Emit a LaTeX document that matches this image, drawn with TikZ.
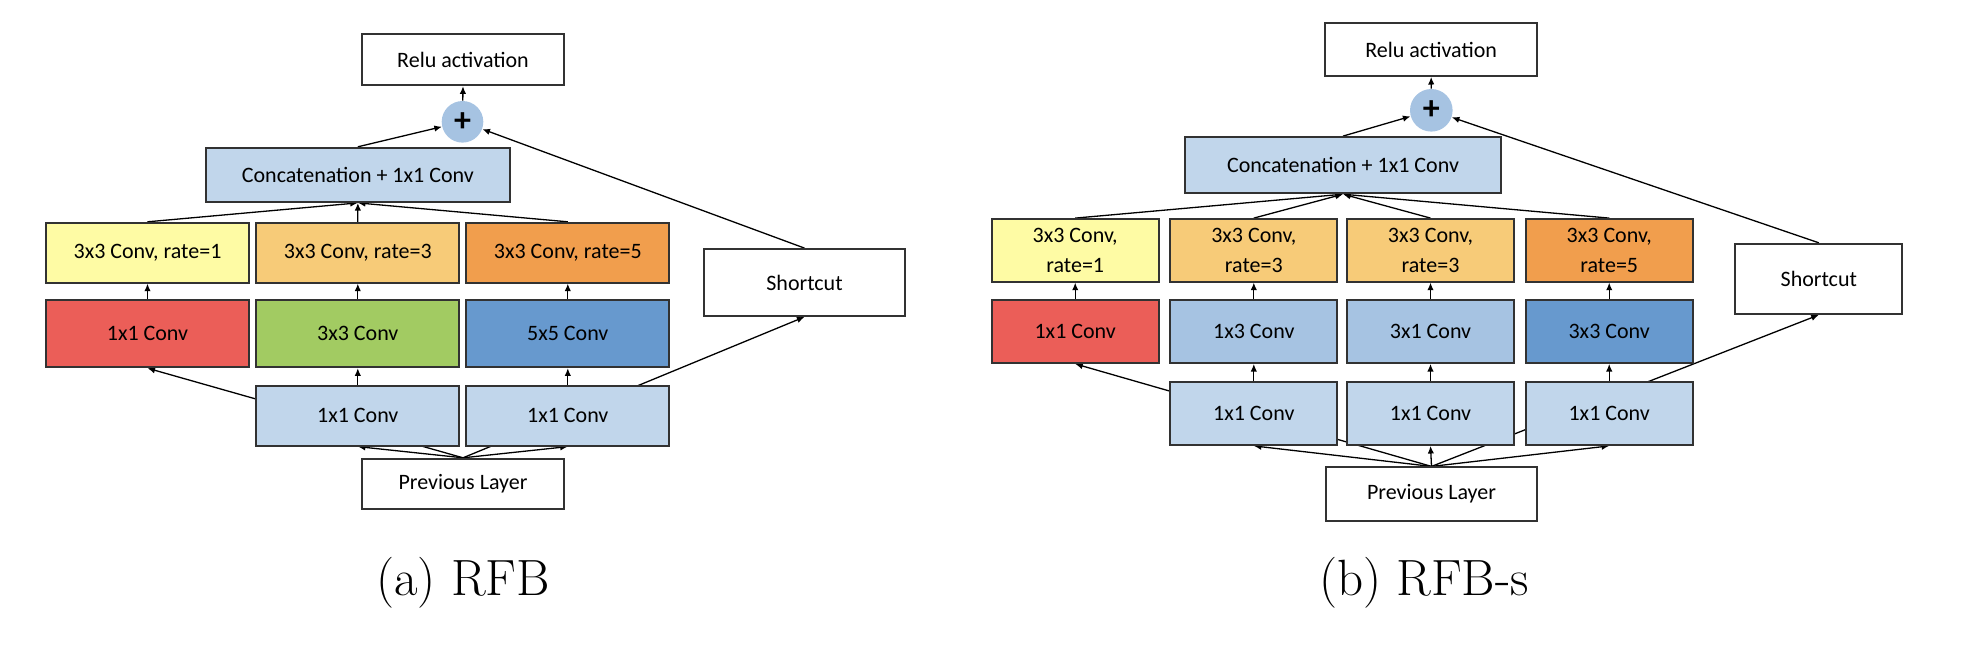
\documentclass[tikz,border=0pt]{standalone}
\usepackage{fontspec}
\newfontfamily\boxfont{Carlito}
\usetikzlibrary{arrows.meta,backgrounds}
\definecolor{bordc}{RGB}{50,50,50}
\definecolor{lblue}{RGB}{193,214,235}
\definecolor{mblue}{RGB}{166,195,226}
\definecolor{dblue}{RGB}{103,153,206}
\definecolor{cred}{RGB}{235,94,88}
\definecolor{cgreen}{RGB}{162,203,98}
\definecolor{cyellow}{RGB}{254,251,164}
\definecolor{lorange}{RGB}{247,203,120}
\definecolor{corange}{RGB}{241,158,77}
\tikzset{
  box/.style={draw=bordc, line width=0.9pt, inner sep=0pt, align=center,
    font=\boxfont\fontsize{11}{15}\selectfont},
  plusnode/.style={circle, fill=mblue, inner sep=0pt,
    font=\boxfont\fontsize{17}{17}\selectfont\bfseries},
  arr/.style={-{Latex[length=3.8pt,width=3.2pt]}, line width=0.65pt, black},
  captext/.style={font=\fontsize{25.5}{30}\selectfont}
}
\newcommand{\mkbox}[7]{\node[box,fill=#6,minimum width={(#4-#2)*0.5pt},minimum height={(#5-#3)*0.5pt}] (#1) at ({(#2+#4)/2},{(#3+#5)/2}) {#7};}
\begin{document}
\begin{tikzpicture}[x=0.5pt,y=-0.5pt]
\useasboundingbox (0,0) rectangle (1964,644);
% ---------------- panel (a)
\mkbox{reluA}{361.7}{34.3}{564.3}{85.3}{white}{Relu activation}
\node[plusnode, minimum size=20.8pt] (plusA) at (462.5,121.8) {+};
\mkbox{concatA}{205.7}{147.7}{510}{202}{lblue}{Concatenation + 1x1 Conv}
\mkbox{rA1}{46}{222.7}{249}{282.7}{cyellow}{3x3 Conv, rate=1}
\mkbox{rA2}{256.3}{222.7}{459.3}{282.7}{lorange}{3x3 Conv, rate=3}
\mkbox{rA3}{466.3}{222.7}{669.3}{282.7}{corange}{3x3 Conv, rate=5}
\mkbox{cA1}{46}{300}{249}{367.3}{cred}{1x1 Conv}
\mkbox{cA2}{256.3}{300}{459.3}{367.3}{cgreen}{3x3 Conv}
\mkbox{cA3}{466.3}{300}{669.3}{367.3}{dblue}{5x5 Conv}
\mkbox{pA2}{256.3}{385.7}{459.3}{445.7}{lblue}{1x1 Conv}
\mkbox{pA3}{466.3}{385.7}{669.3}{445.7}{lblue}{1x1 Conv}
\mkbox{prevA}{361.7}{458.7}{564.3}{509.3}{white}{Previous Layer}
\mkbox{shortA}{704}{249}{905}{316}{white}{Shortcut}
\node[captext] (capA) at (463,583) {(a) RFB};
% ---------------- panel (b)
\mkbox{reluB}{1325}{23.3}{1537.3}{76}{white}{Relu activation}
\node[plusnode, minimum size=21.3pt] (plusB) at (1431.3,110.3) {+};
\mkbox{concatB}{1184.7}{137}{1501.3}{193.3}{lblue}{Concatenation + 1x1 Conv}
\mkbox{rB1}{991.7}{219}{1158.7}{281.7}{cyellow}{3x3 Conv,\\rate=1}
\mkbox{rB2}{1170.3}{219}{1337.3}{281.7}{lorange}{3x3 Conv,\\rate=3}
\mkbox{rB3}{1347}{219}{1514}{281.7}{lorange}{3x3 Conv,\\rate=3}
\mkbox{rB4}{1525.7}{219}{1692.7}{281.7}{corange}{3x3 Conv,\\rate=5}
\mkbox{cB1}{991.7}{300}{1158.7}{363}{cred}{1x1 Conv}
\mkbox{cB2}{1170.3}{300}{1337.3}{363}{mblue}{1x3 Conv}
\mkbox{cB3}{1347}{300}{1514}{363}{mblue}{3x1 Conv}
\mkbox{cB4}{1525.7}{300}{1692.7}{363}{dblue}{3x3 Conv}
\mkbox{pB2}{1170.3}{382}{1337.3}{445}{lblue}{1x1 Conv}
\mkbox{pB3}{1347}{382}{1514}{445}{lblue}{1x1 Conv}
\mkbox{pB4}{1525.7}{382}{1692.7}{445}{lblue}{1x1 Conv}
\mkbox{prevB}{1325.7}{467.3}{1537.3}{520.7}{white}{Previous Layer}
\mkbox{shortB}{1735.3}{243.7}{1902.3}{314}{white}{Shortcut}
\node[captext] (capB) at (1424,583) {(b) RFB-s};
% ---------------- connectors
\begin{pgfonlayer}{background}
% (a)
\draw[arr] (plusA) -- (reluA.south);
\draw[arr] (concatA.north) -- (plusA);
\draw[arr] (shortA.north) -- (plusA);
\foreach \n in {rA1,rA2,rA3} \draw[arr] (\n.north) -- (concatA.south);
\foreach \n in {A1,A2,A3} \draw[arr] (c\n.north) -- (r\n.south);
\foreach \n in {A2,A3} \draw[arr] (p\n.north) -- (c\n.south);
\foreach \n in {pA2,pA3,cA1,shortA} \draw[arr] (prevA.north) -- (\n.south);
% (b)
\draw[arr] (plusB) -- (reluB.south);
\draw[arr] (concatB.north) -- (plusB);
\draw[arr] (shortB.north) -- (plusB);
\foreach \n in {rB1,rB2,rB3,rB4} \draw[arr] (\n.north) -- (concatB.south);
\foreach \n in {B1,B2,B3,B4} \draw[arr] (c\n.north) -- (r\n.south);
\foreach \n in {B2,B3,B4} \draw[arr] (p\n.north) -- (c\n.south);
\foreach \n in {pB2,pB3,pB4,cB1,shortB} \draw[arr] (prevB.north) -- (\n.south);
\end{pgfonlayer}
\end{tikzpicture}
\end{document}
